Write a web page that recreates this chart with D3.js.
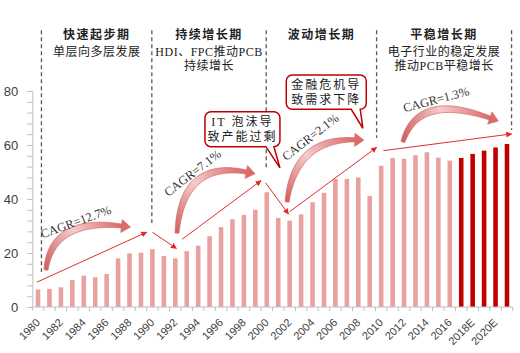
<!DOCTYPE html>
<html>
<head>
<meta charset="utf-8">
<script src="https://cdn.jsdelivr.net/npm/d3@7"></script>
<style>
  body { margin: 0; background: #fff; }
  svg { display: block; }
</style>
</head>
<body>
<script>
// PCB output value by year
const categories = ['1980', '1981', '1982', '1983', '1984', '1985', '1986', '1987', '1988', '1989',
  '1990', '1991', '1992', '1993', '1994', '1995', '1996', '1997', '1998', '1999',
  '2000', '2001', '2002', '2003', '2004', '2005', '2006', '2007', '2008', '2009',
  '2010', '2011', '2012', '2013', '2014', '2015', '2016', '2017', '2018E', '2019E', '2020E', '2021E']
const values = [6.5, 6.7, 7.3, 10.0, 11.6, 11.0, 12.2, 18.0, 19.9, 20.1,
  21.4, 18.9, 18.0, 20.7, 22.7, 26.2, 29.6, 32.5, 34.1, 36.0,
  42.5, 33.0, 32.0, 34.3, 38.8, 42.3, 47.4, 47.4, 48.0, 41.1,
  52.3, 55.2, 54.9, 56.2, 57.3, 55.3, 54.2, 55.2, 56.7, 57.9, 59.1, 60.4]
const highlight = ['2017', '2018E', '2019E', '2020E', '2021E']
const xTickLabels = ['1980', '1982', '1984', '1986', '1988', '1990', '1992', '1994', '1996', '1998',
  '2000', '2002', '2004', '2006', '2008', '2010', '2012', '2014', '2016', '2018E', '2020E']
const yTickLabels = [0, 20, 40, 60, 80]

// periods: boundaries in years, where each dashed line stops (value)
const periodBounds = [1980.3, 1989.95, 1999.95, 2009.6, 2021.4]
const periodLineEnds = [13, 31.1, 50.7, 62.6, 65.6]
const periodTitles = ['快速起步期', '持续增长期', '波动增长期', '平稳增长期']
const periodNotes = [['单层向多层发展'], ['HDI、FPC推动PCB', '持续增长'], [], ['电子行业的稳定发展', '推动PCB平稳增长']]

// trend arrows [year, value] -> [year, value]
const trends = [
  [[1979.9, 9.2], [1989.5, 27.7]],
  [[1990.0, 27.7], [1992.1, 21.7]],
  [[1992.6, 25.1], [1999.5, 46.8]],
  [[1999.9, 46.0], [2001.9, 34.4]],
  [[2002.0, 35.3], [2009.6, 59.1]],
  [[2010.2, 57.9], [2021.4, 64.1]]
]

// CAGR swoosh arrows: start, control, end ([year, value])
const swooshes = [
  [[1980.7, 13.7], [1981.2, 33.0], [1987.3, 30.0]],
  [[1992.15, 27.4], [1992.6, 54.4], [1998.2, 50.0]],
  [[2001.77, 38.9], [2002.47, 62.6], [2007.7, 61.9]],
  [[2011.9, 61.1], [2013.2, 79.6], [2019.5, 70.0]]
]
const cagrLabels = ['CAGR=12.7%', 'CAGR=7.1%', 'CAGR=2.1%', 'CAGR=1.3%']
const cagrPos = [[1983.3, 31.6], [1993.5, 49.7], [2003.8, 63.0], [2014.8, 76.9]]
const cagrAngle = [-20, -37.5, -38, -15]

// callouts: tip [year, value] and text lines
const callouts = [
  { tip: [2001.15, 51.5], lines: ['IT 泡沫导', '致产能过剩'] },
  { tip: [2008.4, 66.2], lines: ['金融危机导', '致需求下降'] }
]

const W = 520
const H = 353
const light = '#e8a0a0'
const dark = '#c00000'
const axisGrey = '#bfbfbf'

const svg = d3.select('body').append('svg')
  .attr('width', W)
  .attr('height', H)

const x = d3.scaleBand()
  .domain(categories)
  .range([32.3, 512.7])
  .paddingInner(0.6)
  .paddingOuter(0.3)

const y = d3.scaleLinear()
  .domain([0, 80])
  .range([307, 91])

const bw = x.bandwidth()
const xl = d3.scaleLinear()
  .domain([1980, 2021])
  .range([x('1980') + bw / 2, x('2021E') + bw / 2])
const pt = d => [xl(d[0]), y(d[1])]

const defs = svg.append('defs')
defs.append('marker')
  .attr('id', 'tip')
  .attr('viewBox', '0 0 10 10')
  .attr('refX', 9)
  .attr('refY', 5)
  .attr('markerWidth', 6)
  .attr('markerHeight', 6)
  .attr('markerUnits', 'userSpaceOnUse')
  .attr('orient', 'auto')
  .append('path')
  .attr('d', 'M0,0 L10,5 L0,10 Z')
  .attr('fill', '#e02b2b')

// bars
svg.selectAll('rect.bar')
  .data(values)
  .enter().append('rect')
  .attr('class', 'bar')
  .attr('x', (d, i) => x(categories[i]))
  .attr('y', d => y(d))
  .attr('width', bw)
  .attr('height', d => y(0) - y(d))
  .attr('fill', (d, i) => highlight.includes(categories[i]) ? dark : light)

// y axis
const yAxis = d3.axisLeft(y)
  .tickValues(d3.range(0, 81, 4))
  .tickSize(5)
  .tickSizeOuter(0)
  .tickPadding(9)
  .tickFormat(d => yTickLabels.includes(d) ? d : '')

const gy = svg.append('g')
  .attr('transform', `translate(${x.range()[0]},0)`)
  .call(yAxis)
gy.select('.domain').attr('stroke', axisGrey)
gy.selectAll('.tick line').attr('stroke', axisGrey)
gy.selectAll('.tick text')
  .attr('fill', '#404040')
  .style('font', '13px "Liberation Sans", Arial, sans-serif')

// x axis: baseline, ticks at band edges, rotated labels
const gx = svg.append('g')
gx.append('line')
  .attr('x1', x.range()[0]).attr('x2', x.range()[1])
  .attr('y1', y(0)).attr('y2', y(0))
  .attr('stroke', axisGrey)
const edges = categories.map(c => x(c) + bw / 2 - x.step() / 2)
edges.push(x.range()[1])
gx.selectAll('line.edge')
  .data(edges)
  .enter().append('line')
  .attr('class', 'edge')
  .attr('x1', d => d).attr('x2', d => d)
  .attr('y1', y(0)).attr('y2', y(0) + 4)
  .attr('stroke', axisGrey)
gx.selectAll('text')
  .data(xTickLabels)
  .enter().append('text')
  .attr('transform', d => `translate(${x(d) + bw / 2},${y(0) + 13.5}) rotate(-45)`)
  .attr('text-anchor', 'end')
  .attr('dy', '0.35em')
  .attr('fill', '#404040')
  .style('font', '11px "Liberation Sans", Arial, sans-serif')
  .text(d => d)

// period dividers and headers
const topY = y(102.5)
svg.selectAll('line.period')
  .data(periodBounds)
  .enter().append('line')
  .attr('class', 'period')
  .attr('x1', d => xl(d)).attr('x2', d => xl(d))
  .attr('y1', topY)
  .attr('y2', (d, i) => y(periodLineEnds[i]))
  .attr('stroke', '#595959')
  .attr('stroke-width', 1.3)
  .attr('stroke-dasharray', '4,3')

const headFont = '"Liberation Serif", "Noto Sans CJK SC", serif'
periodTitles.forEach((t, i) => {
  const cx = (xl(periodBounds[i]) + xl(periodBounds[i + 1])) / 2
  svg.append('text')
    .attr('x', cx).attr('y', 39)
    .attr('text-anchor', 'middle')
    .attr('fill', '#222')
    .style('font-family', headFont)
    .style('font-size', '12px')
    .style('font-weight', 'bold')
    .style('letter-spacing', '1.5px')
    .text(t)
  periodNotes[i].forEach((n, j) => {
    svg.append('text')
      .attr('x', cx).attr('y', 56 + j * 14)
      .attr('text-anchor', 'middle')
      .attr('fill', '#222')
      .style('font-family', headFont)
      .style('font-size', '12px')
      .style('letter-spacing', '0.5px')
      .text(n)
  })
})

// trend arrows
svg.selectAll('line.trend')
  .data(trends)
  .enter().append('line')
  .attr('class', 'trend')
  .attr('x1', d => pt(d[0])[0]).attr('y1', d => pt(d[0])[1])
  .attr('x2', d => pt(d[1])[0]).attr('y2', d => pt(d[1])[1])
  .attr('stroke', '#e02b2b')
  .attr('stroke-width', 1)
  .attr('marker-end', 'url(#tip)')

// CAGR swooshes: tapered quadratic ribbon + arrow head
const swooshPath = (p0, c, p1) => {
  const n = 40
  const left = []
  const right = []
  const B = t => [
    (1 - t) * (1 - t) * p0[0] + 2 * (1 - t) * t * c[0] + t * t * p1[0],
    (1 - t) * (1 - t) * p0[1] + 2 * (1 - t) * t * c[1] + t * t * p1[1]
  ]
  const D = t => [
    2 * (1 - t) * (c[0] - p0[0]) + 2 * t * (p1[0] - c[0]),
    2 * (1 - t) * (c[1] - p0[1]) + 2 * t * (p1[1] - c[1])
  ]
  for (let k = 0; k <= n; k++) {
    const t = k / n
    const p = B(t)
    const d = D(t)
    const len = Math.hypot(d[0], d[1])
    const nx = -d[1] / len
    const ny = d[0] / len
    const hw = (1.5 + 5.5 * Math.sin(Math.PI * (0.15 + 0.7 * t))) / 2
    left.push([p[0] + nx * hw, p[1] + ny * hw])
    right.push([p[0] - nx * hw, p[1] - ny * hw])
  }
  const d = D(1)
  const len = Math.hypot(d[0], d[1])
  const ux = d[0] / len
  const uy = d[1] / len
  const head = [
    [p1[0] - uy * 6.5, p1[1] + ux * 6.5],
    [p1[0] + ux * 9, p1[1] + uy * 9],
    [p1[0] + uy * 6.5, p1[1] - ux * 6.5]
  ]
  const body = 'M' + left.map(p => p.join(',')).join('L') +
    'L' + right.reverse().map(p => p.join(',')).join('L') + 'Z'
  return body + 'M' + head.map(p => p.join(',')).join('L') + 'Z'
}

swooshes.forEach((s, i) => {
  const [p0, c, p1] = s.map(pt)
  const g = defs.append('linearGradient')
    .attr('id', 'sw' + i)
    .attr('gradientUnits', 'userSpaceOnUse')
    .attr('x1', p0[0]).attr('y1', p0[1])
    .attr('x2', p1[0]).attr('y2', p1[1])
  g.append('stop').attr('offset', 0).attr('stop-color', '#d06060')
  g.append('stop').attr('offset', 0.5).attr('stop-color', '#f5cccc')
  g.append('stop').attr('offset', 1).attr('stop-color', '#dc6a6a')
  svg.append('path')
    .attr('d', swooshPath(p0, c, p1))
    .attr('fill', `url(#sw${i})`)
    .attr('stroke', '#d46a6a')
    .attr('stroke-width', 0.7)
})

// CAGR labels
svg.selectAll('text.cagr')
  .data(cagrLabels)
  .enter().append('text')
  .attr('class', 'cagr')
  .attr('transform', (d, i) => {
    const p = pt(cagrPos[i])
    return `translate(${p[0]},${p[1]}) rotate(${cagrAngle[i]})`
  })
  .attr('text-anchor', 'middle')
  .attr('dy', '0.35em')
  .attr('fill', '#333')
  .style('font', '12.5px "Liberation Serif", "Times New Roman", serif')
  .text(d => d)

// callouts
const calloutBox = [
  { dx: -75, dy: -56.3, w: 75, h: 35, a: -14, b: -6 },
  { dx: -76.6, dy: -53.3, w: 80, h: 34.3, a: -11.6, b: -2.6 }
]
callouts.forEach((c, i) => {
  const [tx, ty] = pt(c.tip)
  const bx = calloutBox[i]
  const l = tx + bx.dx
  const t = ty + bx.dy
  const r = l + bx.w
  const b = t + bx.h
  const rr = 6
  const path = `M${l + rr},${t} H${r - rr} A${rr},${rr} 0 0 1 ${r},${t + rr} V${b - rr}` +
    ` A${rr},${rr} 0 0 1 ${r - rr},${b} H${tx + bx.b} L${tx},${ty} L${tx + bx.a},${b}` +
    ` H${l + rr} A${rr},${rr} 0 0 1 ${l},${b - rr} V${t + rr} A${rr},${rr} 0 0 1 ${l + rr},${t} Z`
  svg.append('path')
    .attr('d', path)
    .attr('fill', '#fff')
    .attr('stroke', dark)
    .attr('stroke-width', 1.5)
  c.lines.forEach((line, j) => {
    svg.append('text')
      .attr('x', (l + r) / 2)
      .attr('y', t + 14 + j * 15.5)
      .attr('text-anchor', 'middle')
      .attr('fill', '#222')
      .style('font-family', headFont)
      .style('font-size', '12px')
      .style('letter-spacing', '2px')
      .text(line)
  })
})
</script>
</body>
</html>
